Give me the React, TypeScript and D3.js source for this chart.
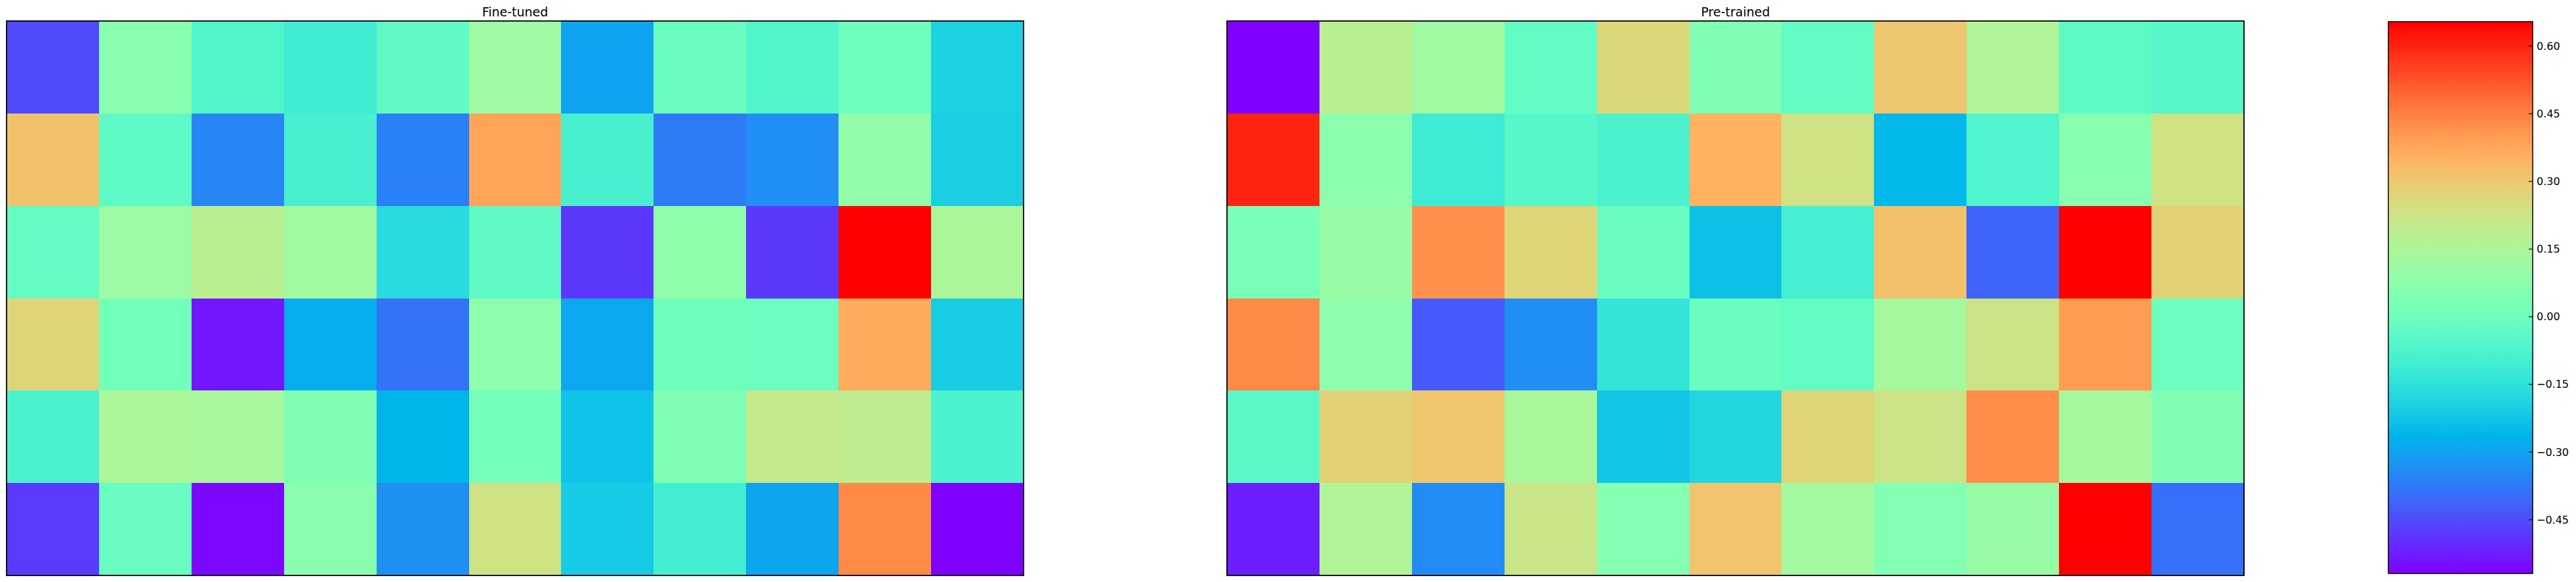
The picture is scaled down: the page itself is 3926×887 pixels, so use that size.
import * as d3 from "d3";
import React from "react";

// values
const fineTuned = [
  [-0.453, 0.067, -0.068, -0.11, -0.033, 0.116, -0.297, -0.009, -0.068, 0.001, -0.196],
  [0.318, -0.038, -0.354, -0.091, -0.364, 0.38, -0.091, -0.373, -0.34, 0.087, -0.202],
  [-0.024, 0.111, 0.183, 0.121, -0.168, -0.033, -0.483, 0.082, -0.483, 0.654, 0.149],
  [0.269, 0.011, -0.536, -0.275, -0.388, 0.077, -0.289, 0.006, -0.004, 0.367, -0.206],
  [-0.08, 0.149, 0.14, 0.043, -0.263, 0.018, -0.227, 0.039, 0.206, 0.192, -0.08],
  [-0.478, -0.014, -0.559, 0.067, -0.335, 0.231, -0.211, -0.101, -0.296, 0.431, -0.569],
];

const preTrained = [
  [-0.569, 0.183, 0.121, -0.03, 0.263, 0.043, -0.03, 0.305, 0.159, -0.038, -0.055],
  [0.599, 0.073, -0.114, -0.053, -0.08, 0.353, 0.231, -0.256, -0.071, 0.063, 0.231],
  [0.024, 0.101, 0.418, 0.269, -0.009, -0.234, -0.096, 0.32, -0.412, 0.654, 0.279],
  [0.434, 0.077, -0.431, -0.34, -0.139, -0.009, -0.03, 0.134, 0.226, 0.398, -0.004],
  [-0.048, 0.279, 0.308, 0.144, -0.22, -0.181, 0.269, 0.226, 0.425, 0.134, 0.043],
  [-0.523, 0.159, -0.345, 0.216, 0.055, 0.312, 0.128, 0.049, 0.101, 0.654, -0.393],
];

const titles = ["Fine-tuned", "Pre-trained"];
const colorbarTicks = [-0.45, -0.3, -0.15, 0.0, 0.15, 0.3, 0.45, 0.6];

const W = 3926;
const H = 887;
const font = "DejaVu Sans";

// matplotlib "rainbow" colormap
const rainbow = (t: number) => {
  const r = Math.min(1, Math.abs(2 * t - 0.5));
  const g = Math.sin(Math.PI * t);
  const b = Math.cos((Math.PI * t) / 2);
  return d3.rgb(r * 255, g * 255, b * 255).toString();
};

const allVals = fineTuned.flat().concat(preTrained.flat());
const vmin = d3.min(allVals) as number;
const vmax = d3.max(allVals) as number;
const color = d3.scaleSequential(rainbow).domain([vmin, vmax]);

const panels = [
  { title: titles[0], data: fineTuned, x0: 10, x1: 1560 },
  { title: titles[1], data: preTrained, x0: 1870, x1: 3420 },
];
const top = 32;
const bottom = 877;

const Heatmap = ({ title, data, x0, x1 }: any) => {
  const cols = d3.range(data[0].length);
  const rows = d3.range(data.length);
  const xScale = d3.scaleBand<number>().domain(cols).range([x0, x1]);
  const yScale = d3.scaleBand<number>().domain(rows).range([top, bottom]);
  return (
    <g>
      {data.map((row: number[], i: number) =>
        row.map((v, j) => (
          <rect
            key={i + "-" + j}
            x={xScale(j)}
            y={yScale(i)}
            width={xScale.bandwidth() + 0.5}
            height={yScale.bandwidth() + 0.5}
            fill={color(v)}
            shapeRendering="crispEdges"
          />
        ))
      )}
      <rect x={x0} y={top} width={x1 - x0} height={bottom - top} fill="none" stroke="#000" strokeWidth={1.8} />
      <text x={(x0 + x1) / 2} y={25} textAnchor="middle" fontFamily={font} fontSize={19}>
        {title}
      </text>
    </g>
  );
};

const Colorbar = () => {
  const cx0 = 3640;
  const cx1 = 3860;
  const cy0 = 33;
  const cy1 = 874;
  const yScale = d3.scaleLinear().domain([vmin, vmax]).range([cy1, cy0]);
  const stops = d3.range(0, 1.0001, 1 / 64);
  const fmt = d3.format(".2f");
  return (
    <g>
      <defs>
        <linearGradient id="cbar" x1="0" y1="1" x2="0" y2="0">
          {stops.map((t) => (
            <stop key={t} offset={t} stopColor={rainbow(t)} />
          ))}
        </linearGradient>
      </defs>
      <rect x={cx0} y={cy0} width={cx1 - cx0} height={cy1 - cy0} fill="url(#cbar)" stroke="#000" strokeWidth={1.5} />
      {colorbarTicks.map((t) => (
        <g key={t} transform={`translate(0,${yScale(t)})`}>
          <line x1={cx1 - 6} x2={cx1} stroke="#000" strokeWidth={1.2} />
          <text x={cx1 + 6} dy="0.35em" fontFamily={font} fontSize={16}>
            {fmt(t)}
          </text>
        </g>
      ))}
    </g>
  );
};

export default function App() {
  return (
    <svg width={W} height={H} style={{ position: "absolute", left: 0, top: 0, background: "#fff" }}>
      {panels.map((p) => (
        <Heatmap key={p.title} {...p} />
      ))}
      <Colorbar />
    </svg>
  );
}
